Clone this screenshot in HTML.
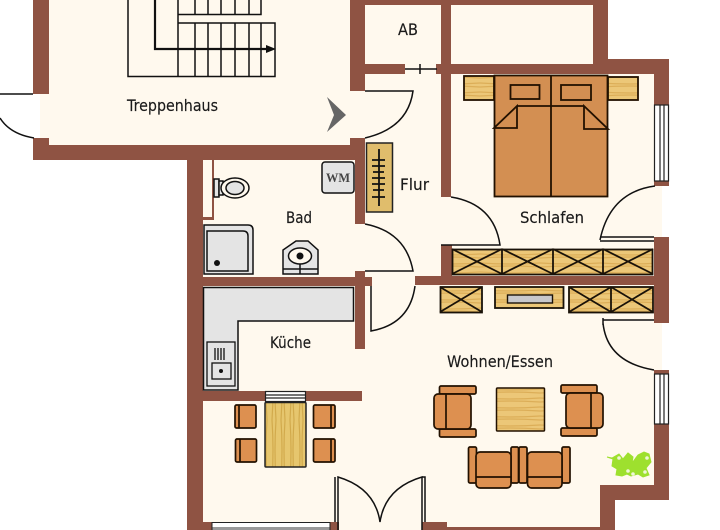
<!DOCTYPE html>
<html><head><meta charset="utf-8"><style>html,body{margin:0;padding:0;background:#fff}svg{display:block}text{font-family:"DejaVu Sans","Liberation Sans",sans-serif;font-size:16px;fill:#1a1a1a;stroke:#1a1a1a;stroke-width:.15px}</style></head><body>
<svg width="720" height="530" viewBox="0 0 720 530" xmlns="http://www.w3.org/2000/svg">
<defs>
<pattern id="w" width="60" height="9" patternUnits="userSpaceOnUse"><rect width="60" height="9" fill="#ecc778"/><path d="M0 2q30 2 60 0M0 6q30-2 60 0" stroke="#dcae58" stroke-width="1.2" fill="none"/></pattern>
<pattern id="v" width="9" height="60" patternUnits="userSpaceOnUse"><rect width="9" height="60" fill="#e6c66e"/><path d="M2 0q2 30 0 60M6 0q-2 30 0 60" stroke="#d2aa4c" stroke-width="1.2" fill="none"/></pattern>
</defs>
<rect width="720" height="530" fill="#fff"/>
<g fill="#fff9ee">
<rect x="40" y="94" width="20" height="44"/><rect x="49" y="0" width="310" height="145"/>
<rect x="203" y="145" width="455" height="385"/><rect x="350" y="0" width="250" height="160"/><rect x="450" y="60" width="205" height="100"/>
<rect x="650" y="186" width="12" height="51"/><rect x="650" y="322" width="12" height="48"/>
<rect x="600" y="485" width="70" height="45" fill="#fff"/><rect x="660" y="424" width="60" height="106" fill="#fff"/>
</g>
<g fill="#8f5343">
<rect x="33" y="0" width="16" height="94"/><rect x="33" y="138" width="16" height="22"/><rect x="33" y="145" width="332" height="15"/>
<rect x="350" y="0" width="15" height="91"/><rect x="350" y="138" width="15" height="22"/><rect x="350" y="0" width="258" height="5"/>
<rect x="441" y="0" width="10" height="197"/><rect x="593" y="0" width="15" height="74"/><rect x="365" y="64" width="40" height="10"/><rect x="436" y="64" width="218" height="10"/>
<rect x="593" y="59" width="76" height="15"/><rect x="654" y="59" width="15" height="46"/><rect x="654" y="181" width="15" height="5"/><rect x="654" y="237" width="15" height="86"/><rect x="654" y="370" width="15" height="4"/><rect x="654" y="424" width="15" height="76"/>
<rect x="600" y="485" width="69" height="15"/><rect x="600" y="485" width="15" height="45"/>
<rect x="187" y="160" width="16" height="370"/><rect x="355" y="160" width="10" height="64"/><rect x="355" y="271" width="10" height="78"/>
<rect x="203" y="277" width="169" height="9"/><rect x="415" y="276" width="239" height="9"/><rect x="441" y="245" width="11" height="31"/>
<rect x="203" y="391" width="159" height="10"/>
<rect x="187" y="522" width="25" height="8"/><rect x="330" y="522" width="9" height="8"/><rect x="422" y="522" width="25" height="8"/><rect x="447" y="527" width="153" height="3"/>
<rect x="212" y="160" width="2" height="60"/><rect x="203" y="217" width="10" height="3"/>
</g>
<!-- stairs -->
<g fill="none" stroke="#111" stroke-width="1.500">
<path d="M128 0V76.500H275V23H178M178 0V76M178 14.500H261V0M195 0V14M208 0V14M221 0V14M235 0V14M249 0V14M195 23V76M208 23V76M221 23V76M235 23V76M249 23V76M261 23V76"/>
<path d="M155 0V49H268" stroke-width="2.200"/>
</g>
<path d="M266 45l10 4-10 4z" fill="#111"/>
<path d="M327 97L346 115 327 132 334 115z" fill="#666"/>
<!-- doors -->
<g fill="none" stroke="#111" stroke-width="1.500">
<path d="M0 94H33M0 118Q10 134 34 138"/>
<path d="M365 91H413Q408 128 365 138"/>
<path d="M451 197Q494 204 500 245H441"/>
<path d="M655 186Q610 192 600 240"/>
<path d="M600 237H654M600 241H654"/>
<path d="M365 224Q406 232 413 271H365"/>
<path d="M415 286Q410 324 371 331V286"/>
<path d="M603 320H654M603 323Q607 362 654 370M603 318V325"/>
<path d="M335 522V477M338 530V477Q375 488 380 522Q385 488 422 477V530M425 522V477H422"/>
<path d="M405 69H437M420 64V74"/>
</g>
<!-- windows -->
<g stroke="#222" stroke-width="1.200">
<rect x="654.500" y="105" width="14" height="76" fill="#fff"/><path d="M660 105V181M664 105V181"/>
<rect x="654.500" y="374" width="14" height="50" fill="#fff"/><path d="M660 374V424M664 374V424"/>
<rect x="265.500" y="391.500" width="40" height="10" fill="#fff"/><path d="M266 395H305M266 398H305"/>
</g>
<rect x="212" y="522.500" width="118" height="8" fill="#fff" stroke="#222"/><rect x="212.500" y="527" width="117" height="3" fill="#999"/>
<!-- Schlafen -->
<g stroke="#210" stroke-width="1.800">
<rect x="464" y="76" width="30" height="24" fill="url(#w)"/><rect x="608" y="77" width="30" height="23" fill="url(#w)"/>
<rect x="494.500" y="75.500" width="113" height="121" fill="#d38f52"/>
<path d="M551 75V197M517 106H584M494 128L517 106V128ZM608 129L584 106V129Z" fill="none"/>
<rect x="510.500" y="85" width="29" height="14" fill="none"/><rect x="561" y="85" width="30" height="15" fill="none"/>
</g>
<!-- cabinets -->
<g stroke="#1a1208" stroke-width="1.800" fill="url(#w)">
<rect x="452.500" y="249.500" width="200" height="25"/>
<path d="M502 249V274M553 249V274M603 249V274M452 249L502 274M452 274L502 249M502 249L553 274M502 274L553 249M553 249L603 274M553 274L603 249M603 249L653 274M603 274L653 249" fill="none"/>
<rect x="440.500" y="287" width="41.500" height="25.500"/><path d="M440 287L482 312M440 312L482 287" fill="none"/>
<rect x="495" y="287" width="68.500" height="21"/>
<rect x="507.500" y="295" width="45" height="8" fill="#c8c8cc" stroke-width="1.400"/>
<rect x="569" y="287" width="84" height="25.500"/><path d="M611 287V312M569 287L611 312M569 312L611 287M611 287L653 312M611 312L653 287" fill="none"/>
</g>
<!-- Flur rack -->
<rect x="366.500" y="143" width="26" height="69" fill="#e0bd6c" stroke="#222" stroke-width="1.500"/>
<path d="M379 149V206M372 160H385M372 166H385M373 172H384M372 178H385M372 184H385M373 190H384M372 197H385" stroke="#111" stroke-width="1.800" fill="none"/>
<!-- Bad -->
<g stroke="#111" stroke-width="1.500" fill="#e4e4e4">
<rect x="322" y="162" width="32" height="31" rx="3"/>
<path d="M204 225H248Q253 225 253 230V274H204Z"/>
<path d="M207 231H243Q248 231 248 236V271H207Z"/>
<path d="M283 274V250L296 241 308 241 318 250V274Z"/>
<path d="M283 269H318M300 256V274" fill="none"/>
<ellipse cx="300" cy="256" rx="11.500" ry="8" fill="#fff9ee"/>
<rect x="214" y="179" width="5" height="18" fill="#e4e4e4"/><rect x="219" y="181" width="4" height="14" fill="#e4e4e4"/>
<ellipse cx="235" cy="188" rx="14" ry="10" fill="#fff9ee"/><ellipse cx="235" cy="188" rx="9" ry="6.500"/>
</g>
<circle cx="300" cy="256" r="3.500" fill="#111"/><circle cx="217" cy="263" r="3" fill="#111"/>
<text x="326" y="182" textLength="24" lengthAdjust="spacingAndGlyphs" style="font:bold 13px 'Liberation Serif',serif;fill:#444;stroke:none">WM</text>
<!-- Kueche -->
<path d="M203.500 287.500H353.500V321H238V390H203.500Z" fill="#e4e4e4" stroke="#111" stroke-width="1.500"/>
<g stroke="#111" stroke-width="1.300" fill="#e4e4e4">
<rect x="207" y="342" width="28" height="44"/><rect x="212" y="363" width="19" height="16"/>
<path d="M215 348V360M218 348V360M221 348V360M224 348V360" fill="none"/>
</g>
<circle cx="221" cy="371" r="2" fill="#111"/>
<rect x="265" y="402.500" width="41" height="64.500" rx="1" fill="url(#v)" stroke="#222" stroke-width="1.500"/>
<g stroke="#210" stroke-width="1.700" fill="#dd9050">
<rect x="235" y="405" width="21" height="23" rx="1.500"/><rect x="235.500" y="439" width="21" height="23" rx="1.500"/>
<rect x="313.500" y="405" width="21.500" height="23" rx="1.500"/><rect x="313.500" y="439" width="21.500" height="23" rx="1.500"/>
<path d="M239 405V428M240 439V462M331 405V428M331 439V462" fill="none"/>
</g>
<!-- Wohnen -->
<rect x="496.500" y="388" width="48" height="43" rx="1" fill="url(#w)" stroke="#210" stroke-width="1.500"/>
<g stroke="#210" stroke-width="1.700" fill="#dd9050">
<rect x="439.500" y="386" width="36.500" height="8" rx="1.500"/><rect x="439.500" y="429" width="36.500" height="8" rx="1.500"/>
<rect x="434" y="394" width="37" height="35" rx="4"/><path d="M446 394V429" fill="none"/>
<rect x="561" y="385" width="36" height="8" rx="1.500"/><rect x="561" y="428" width="36" height="8" rx="1.500"/>
<rect x="566" y="393" width="37" height="35" rx="4"/><path d="M591 393V428" fill="none"/>
<rect x="468.500" y="447" width="8" height="36" rx="1.500"/><rect x="511" y="447" width="7.500" height="36" rx="1.500"/>
<rect x="476" y="452" width="35" height="36" rx="4"/><path d="M476 477H511" fill="none"/>
<rect x="519" y="447" width="8" height="36" rx="1.500"/><rect x="562" y="447" width="8" height="36" rx="1.500"/>
<rect x="527.500" y="452" width="34.500" height="36" rx="4"/><path d="M527 477H562" fill="none"/>
</g>
<g fill="#9ee02e" stroke="#9ee02e" stroke-width="1">
<path d="M612 458l7-4 4 5 5-6 5 4-1 6 6-8 6-3 5 2 2 8-5 6 3 7-6 2-5-3-7 2-4-2-5 2-6-1 1-6-5-3 1-7-6-2z"/>
</g>
<g fill="#eef6d6"><circle cx="619" cy="458" r="1.800"/><circle cx="628" cy="471" r="1.800"/><circle cx="647" cy="458" r="1.800"/><circle cx="645" cy="472" r="1.800"/><circle cx="633" cy="474" r="1.800"/></g>
<!-- labels -->
<text x="127" y="111" textLength="91" lengthAdjust="spacingAndGlyphs">Treppenhaus</text>
<text x="398" y="35" textLength="20" lengthAdjust="spacingAndGlyphs">AB</text>
<text x="400" y="190" textLength="29" lengthAdjust="spacingAndGlyphs">Flur</text>
<text x="286" y="223" textLength="26" lengthAdjust="spacingAndGlyphs">Bad</text>
<text x="520" y="223" textLength="64" lengthAdjust="spacingAndGlyphs">Schlafen</text>
<text x="270" y="348" textLength="41" lengthAdjust="spacingAndGlyphs">Küche</text>
<text x="447" y="367" textLength="106" lengthAdjust="spacingAndGlyphs">Wohnen/Essen</text>
</svg>
</body></html>
